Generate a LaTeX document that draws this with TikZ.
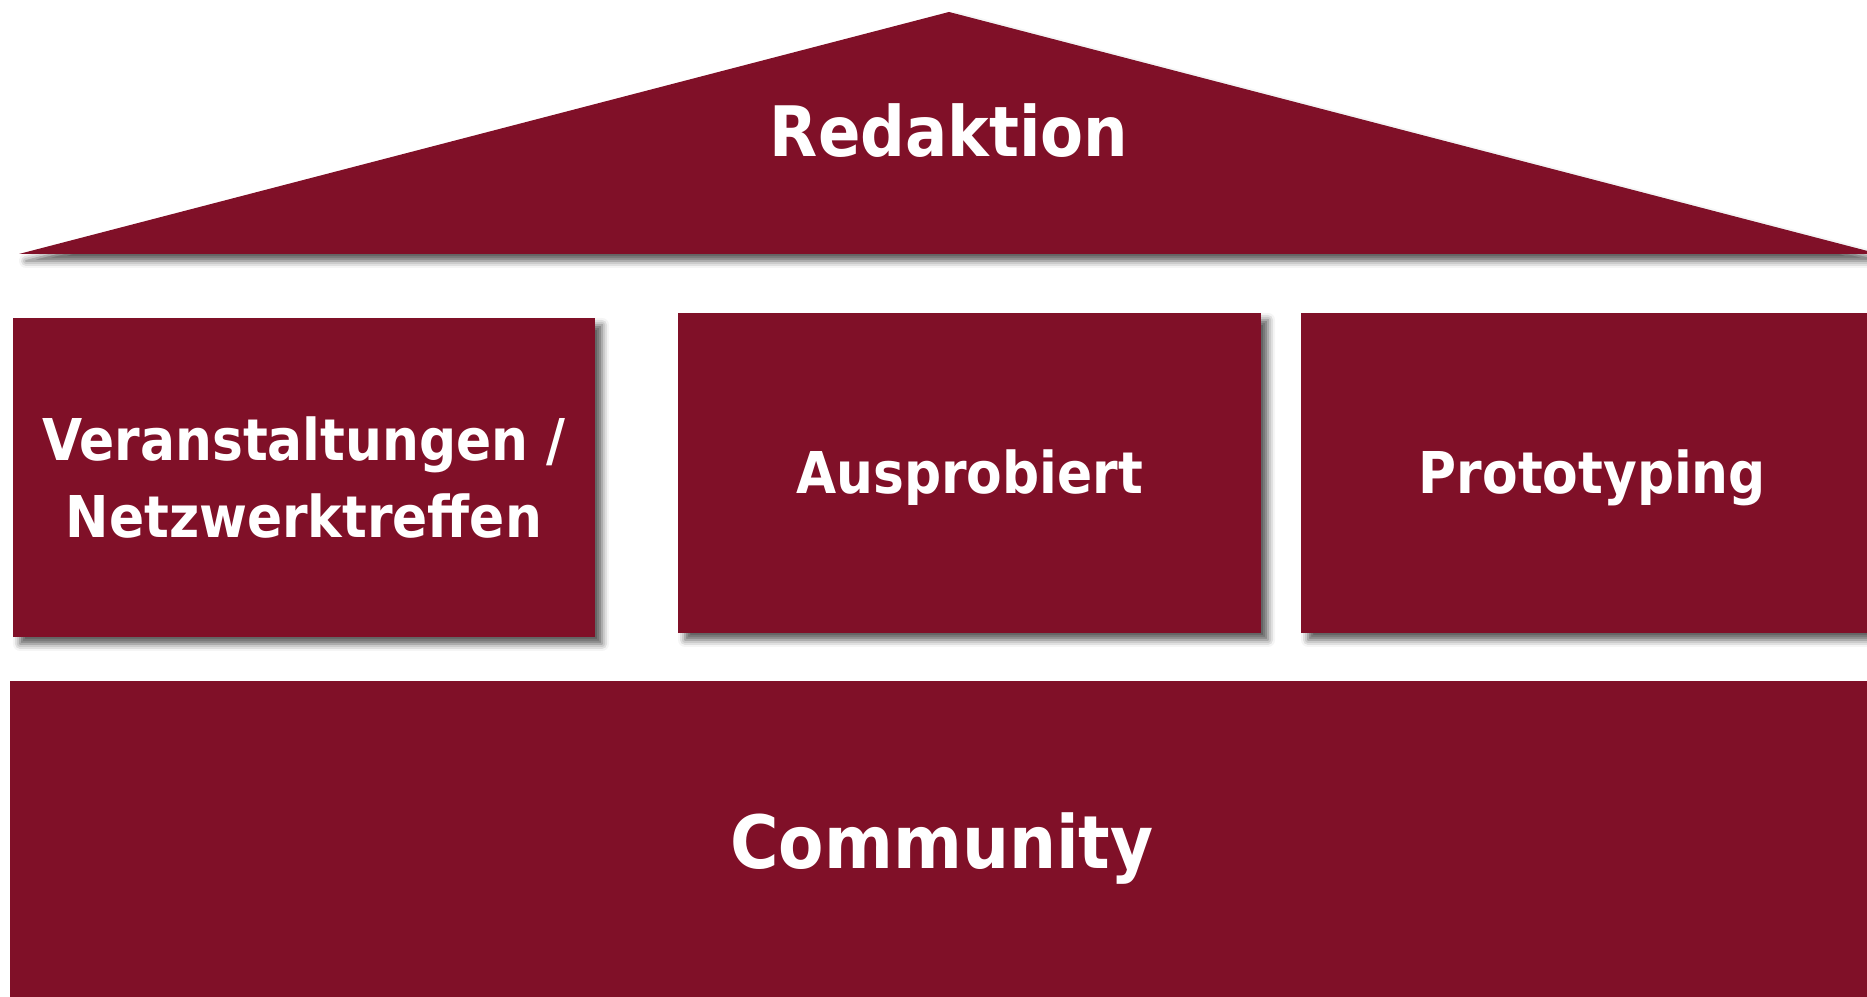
\documentclass[tikz,border=0pt]{standalone}
\usepackage{fontspec}
\setmainfont{DejaVu Sans Condensed}
\usetikzlibrary{shadows.blur}
\definecolor{bordeaux}{RGB}{128,16,40}
\tikzset{
    pillar/.style={rectangle, fill=bordeaux, text=white, inner sep=0pt,
        minimum width=5.83cm, minimum height=3.2cm, align=center,
        font=\bfseries\fontsize{16.4}{21.9}\selectfont},
    oneline/.style={text height=11.96pt, text depth=0pt},
    shadowed/.style={blur shadow={shadow xshift=0.7mm, shadow yshift=-0.7mm,
        shadow blur radius=0.7mm, shadow opacity=65}},
    label/.style={text=white, inner sep=0pt},
}

\begin{document}
\begin{tikzpicture}
\clip (0,0) rectangle (18.67,9.97);
% roof
\coordinate (roofl) at (0.19,7.43);
\coordinate (roofm) at (9.49,9.85);
\coordinate (roofr) at (18.79,7.43);
\fill[bordeaux, shadowed] (roofl) -- (roofm) -- (roofr) -- cycle;
\node[label, text height=14.43pt, text depth=0pt,
    font=\bfseries\fontsize{19.8}{24}\selectfont] (redaktion) at (9.49,8.66) {Redaktion};
% pillars
\node[pillar, shadowed, minimum width=5.82cm, minimum height=3.19cm] (events) at (3.04,5.195) {Veranstaltungen /\\Netzwerktreffen};
\node[pillar, oneline, shadowed] (tried) at (9.695,5.24) {Ausprobiert};
\node[pillar, oneline, shadowed] (proto) at (15.925,5.24) {Prototyping};
% base
\node[pillar, minimum width=18.64cm, minimum height=3.22cm, text height=15.24pt, text depth=0pt,
    font=\bfseries\fontsize{20.9}{27}\selectfont] (community) at (9.42,1.55) {Community};
\end{tikzpicture}
\end{document}
